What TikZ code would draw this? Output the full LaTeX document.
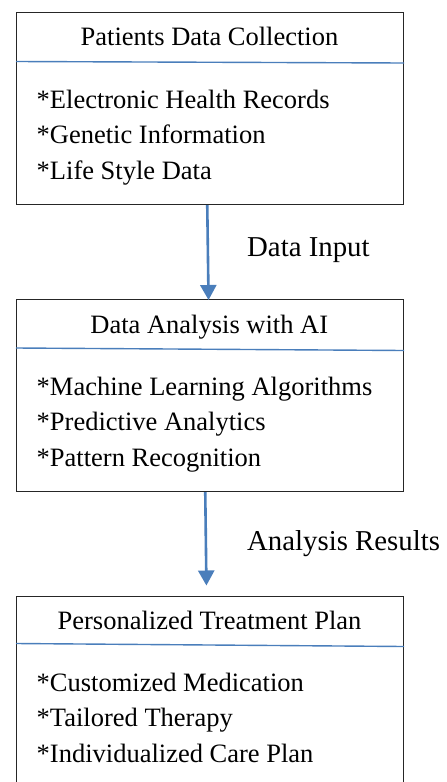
\documentclass[tikz,border=0pt]{standalone}
\usepackage{fontspec}
\setmainfont{Liberation Serif}
\usetikzlibrary{arrows.meta}
\definecolor{lineblue}{RGB}{74,126,187}
\begin{document}
\begin{tikzpicture}[x=1pt,y=-1pt,
  box/.style={draw=black!85,line width=1.1pt,minimum width=387pt,inner sep=0pt,anchor=north west},
  divider/.style={draw=lineblue,line width=1.4pt},
  arr/.style={draw=lineblue,line width=2.6pt,-{Triangle[width=16pt,length=15pt]}},
  head/.style={font=\fontsize{26.5}{30}\selectfont,anchor=base,inner sep=0pt},
  item/.style={font=\fontsize{26.5}{30}\selectfont,anchor=base west,inner sep=0pt},
  lbl/.style={font=\fontsize{28.8}{32}\selectfont,anchor=base west,inner sep=0pt}]
\useasboundingbox (0,0) rectangle (447,782);
\clip (0,0) rectangle (447,782);
% boxes
\node[box,minimum height=192pt] (b1) at (16,12) {};
\node[box,minimum height=192pt] (b2) at (16,299) {};
\node[box,minimum height=230pt] (b3) at (16,596) {};
% dividers
\draw[divider] (b1.west |- 0,61.5) -- (b1.east |- 0,63);
\draw[divider] (b2.west |- 0,348) -- (b2.east |- 0,350.5);
\draw[divider] (b3.west |- 0,643.5) -- (b3.east |- 0,646.5);
% headers
\node[head] (h1) at (209.5,45.7) {Patients Data Collection};
\node[head] (h2) at (209.3,333) {Data Analysis with AI};
\node[head] (h3) at (209.5,629) {Personalized Treatment Plan};
% items
\node[item] (i11) at (36.5,108.3) {*Electronic Health Records};
\node[item] (i12) at (36.5,143.3) {*Genetic Information};
\node[item] (i13) at (36.5,179.3) {*Life Style Data};
\node[item] (i21) at (36.5,395) {*Machine Learning Algorithms};
\node[item] (i22) at (36.5,430) {*Predictive Analytics};
\node[item] (i23) at (36.5,466.7) {*Pattern Recognition};
\node[item] (i31) at (36.5,691.7) {*Customized Medication};
\node[item] (i32) at (36.5,726.7) {*Tailored Therapy};
\node[item] (i33) at (36.5,762.7) {*Individualized Care Plan};
% arrows
\draw[arr] ([xshift=-2.8pt]b1.south) -- ([xshift=-1.5pt,yshift=-1pt]b2.north);
\draw[arr,shorten >=10.5pt] ([xshift=-4.8pt]b2.south) -- ([xshift=-3.5pt]b3.north);
% labels
\node[lbl] (l1) at (247,256.7) {Data Input};
\node[lbl] (l2) at (247,550) {Analysis Results};
\end{tikzpicture}
\end{document}
